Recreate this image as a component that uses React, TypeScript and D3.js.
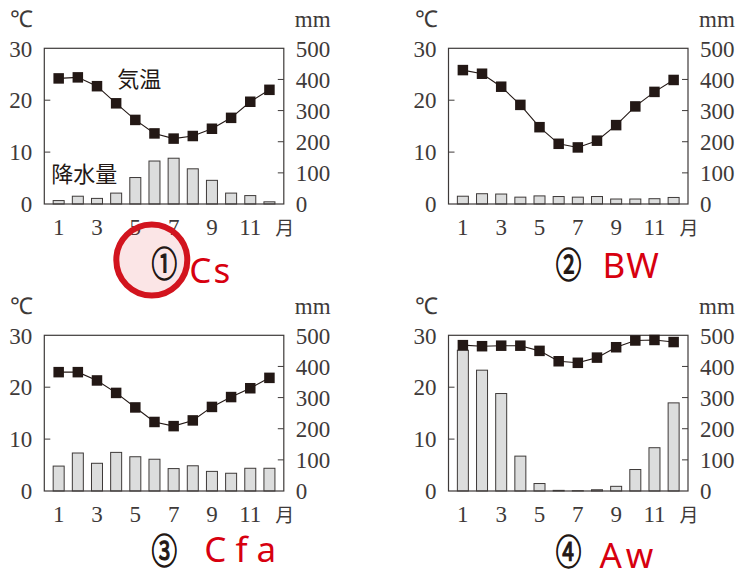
import React from "react";
import * as d3 from "d3";

const months = [1, 2, 3, 4, 5, 6, 7, 8, 9, 10, 11, 12];
const monthTickLabels = [1, 3, 5, 7, 9, 11];
const tempTicks = [0, 10, 20, 30];
const precipTicks = [0, 100, 200, 300, 400, 500];

const tempCs = [24.2, 24.4, 22.7, 19.4, 16.2, 13.6, 12.6, 13.1, 14.5, 16.6, 19.7, 22.0];
const precipCs = [11, 25, 18, 35, 85, 138, 147, 113, 76, 35, 27, 7];

const tempBW = [25.8, 25.1, 22.6, 19.1, 14.8, 11.6, 10.9, 12.2, 15.2, 18.8, 21.6, 23.9];
const precipBW = [25, 33, 32, 22, 26, 24, 22, 24, 16, 16, 17, 21];

const tempCfa = [22.9, 22.9, 21.3, 18.9, 16.1, 13.3, 12.5, 13.6, 16.2, 18.1, 19.8, 21.8];
const precipCfa = [80, 122, 89, 124, 110, 102, 72, 81, 63, 57, 73, 73];

const tempAw = [28.1, 27.9, 28.0, 28.0, 27.0, 25.0, 24.7, 25.7, 27.7, 29.0, 29.1, 28.7];
const precipAw = [452, 388, 313, 112, 24, 2, 1, 4, 15, 69, 139, 283];

const panelNumbers = ["①", "②", "③", "④"];
const climateCodes = ["Cs", "BW", "Cfa", "Aw"];

const INK = "#231815";
const AXIS = "#3e3a39";
const RED = "#d7000f";
const SERIF = "Liberation Serif";
const CJK = "Noto Sans CJK JP";
const HAND = "Noto Sans";

const W = 239.5;
const H = 155.7;

type PanelProps = {
  left: number;
  top: number;
  temps: number[];
  precip: number[];
  num: string;
  code: string;
  codeX: number;
  codeSpacing: number;
  numY: number;
  codeY: number;
  labels?: boolean;
  highlight?: boolean;
};

function Panel(p: PanelProps) {
  const x = d3.scalePoint<number>().domain(months).range([0, W]).padding(0.75);
  const yT = d3.scaleLinear().domain([0, 30]).range([H, 0]);
  const yP = d3.scaleLinear().domain([0, 500]).range([H, 0]);
  const line = d3
    .line<number>()
    .x((_, i) => x(months[i]) as number)
    .y((d) => yT(d));
  const barW = 11;
  const mk = 10.5;
  const numY = H + p.numY;
  return (
    <g transform={`translate(${p.left},${p.top})`}>
      {p.precip.map((v, i) => (
        <rect
          key={"b" + i}
          x={(x(months[i]) as number) - barW / 2}
          y={yP(v)}
          width={barW}
          height={H - yP(v)}
          fill="#dcdddd"
          stroke={AXIS}
          strokeWidth={1}
        />
      ))}
      <rect x={0} y={0} width={W} height={H} fill="none" stroke={AXIS} strokeWidth={1.2} />
      {tempTicks.slice(1, -1).map((t) => (
        <line key={"lt" + t} x1={0} x2={6} y1={yT(t)} y2={yT(t)} stroke={AXIS} strokeWidth={1} />
      ))}
      {precipTicks.slice(1, -1).map((t) => (
        <line key={"rt" + t} x1={W - 6} x2={W} y1={yP(t)} y2={yP(t)} stroke={AXIS} strokeWidth={1} />
      ))}
      {tempTicks.map((t) => (
        <text
          key={"ll" + t}
          x={-12}
          y={yT(t)}
          dy="0.36em"
          textAnchor="end"
          fontFamily={SERIF}
          fontSize={23}
          fill={AXIS}
        >
          {t}
        </text>
      ))}
      {precipTicks.map((t) => (
        <text
          key={"rl" + t}
          x={W + 12}
          y={yP(t)}
          dy="0.36em"
          textAnchor="start"
          fontFamily={SERIF}
          fontSize={23}
          fill={AXIS}
        >
          {t}
        </text>
      ))}
      <text x={-34} y={-21} fontFamily={SERIF} fontSize={23} fill={AXIS}>
        ℃
      </text>
      <text x={W + 11} y={-21} fontFamily={SERIF} fontSize={23} fill={AXIS}>
        mm
      </text>
      {monthTickLabels.map((m) => (
        <text
          key={"m" + m}
          x={x(m) as number}
          y={H + 31}
          textAnchor="middle"
          fontFamily={SERIF}
          fontSize={23}
          fill={AXIS}
        >
          {m}
        </text>
      ))}
      <text x={W + 1} y={H + 31} textAnchor="middle" fontFamily={CJK} fontSize={19} fill={AXIS}>
        月
      </text>
      <path d={line(p.temps) || ""} fill="none" stroke={INK} strokeWidth={1.1} />
      {p.temps.map((v, i) => (
        <rect
          key={"t" + i}
          x={(x(months[i]) as number) - mk / 2}
          y={yT(v) - mk / 2}
          width={mk}
          height={mk}
          fill={INK}
        />
      ))}
      {p.labels && (
        <>
          <text x={73} y={39} fontFamily={CJK} fontSize={22} fill={INK}>
            気温
          </text>
          <text x={7} y={134} fontFamily={CJK} fontSize={22} fill={INK}>
            降水量
          </text>
        </>
      )}
      {p.highlight && (
        <circle
          cx={107.5}
          cy={H + 56}
          r={35.5}
          fill="rgba(220,40,50,0.12)"
          stroke="#d2141e"
          strokeWidth={6}
        />
      )}
      <text
        x={120}
        y={numY}
        textAnchor="middle"
        fontFamily={CJK}
        fontSize={27}
        fill={INK}
        stroke={INK}
        strokeWidth={0.9}
        transform={`translate(120,${numY}) scale(0.95,1.3) translate(-120,${-numY})`}
      >
        {p.num}
      </text>
      <text
        x={p.codeX}
        y={H + p.codeY}
        fontFamily={HAND}
        fontSize={35}
        letterSpacing={p.codeSpacing}
        fill={RED}
      >
        {p.code}
      </text>
    </g>
  );
}

export default function App() {
  return (
    <svg
      width={742}
      height={574}
      viewBox="0 0 742 574"
      style={{ position: "absolute", left: 0, top: 0, background: "#fff" }}
    >
      <rect width={742} height={574} fill="#fff" />
      <Panel
        left={44.3}
        top={48.3}
        temps={tempCs}
        precip={precipCs}
        num={panelNumbers[0]}
        code={climateCodes[0]}
        codeX={145}
        codeSpacing={2}
        numY={73}
        codeY={79}
        labels
        highlight
      />
      <Panel
        left={448.5}
        top={48.3}
        temps={tempBW}
        precip={precipBW}
        num={panelNumbers[1]}
        code={climateCodes[1]}
        codeX={154}
        codeSpacing={1}
        numY={74}
        codeY={74}
      />
      <Panel
        left={44.3}
        top={335.3}
        temps={tempCfa}
        precip={precipCfa}
        num={panelNumbers[2]}
        code={climateCodes[2]}
        codeX={160}
        codeSpacing={9}
        numY={73}
        codeY={71}
      />
      <Panel
        left={448.5}
        top={335.3}
        temps={tempAw}
        precip={precipAw}
        num={panelNumbers[3]}
        code={climateCodes[3]}
        codeX={151}
        codeSpacing={4}
        numY={74}
        codeY={77}
      />
    </svg>
  );
}
